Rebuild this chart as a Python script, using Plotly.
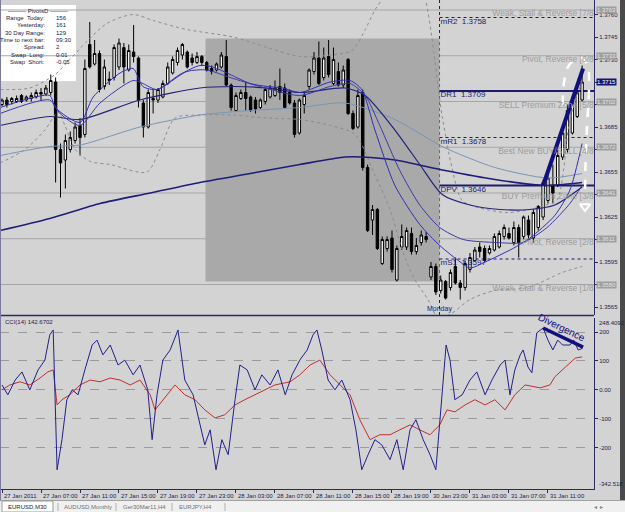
import plotly.graph_objects as go

W, H = 625, 512

# ---------------- data ----------------
bars = list(range(120))
opens = [1.3700,1.3703,1.3702,1.3702,1.3706,1.3703,1.3704,1.3705,1.3708,1.3707,
         1.3708,1.3715,1.3670,1.3663,1.3670,1.3676,1.3686,1.3680,1.3740,1.3727,
         1.3734,1.3712,1.3717,1.3718,1.3725,1.3738,1.3723,1.3735,1.3731,1.3701,
         1.3685,1.3704,1.3703,1.3705,1.3714,1.3721,1.3728,1.3733,1.3735,1.3731,
         1.3728,1.3732,1.3728,1.3724,1.3723,1.3725,1.3732,1.3713,1.3696,1.3704,
         1.3708,1.3705,1.3703,1.3698,1.3702,1.3705,1.3706,1.3712,1.3711,1.3708,
         1.3701,1.3681,1.3700,1.3712,1.3722,1.3731,1.3718,1.3732,1.3714,1.3722,
         1.3713,1.3730,1.3694,1.3685,1.3708,1.3658,1.3623,1.3630,1.3594,1.3604,
         1.3611,1.3583,1.3605,1.3605,1.3614,1.3602,1.3608,1.3612,1.3585,1.3592,
         1.3576,1.3582,1.3578,1.3592,1.3581,1.3578,1.3590,1.3596,1.3605,1.3604,
         1.3601,1.3603,1.3605,1.3612,1.3614,1.3608,1.3618,1.3612,1.3623,1.3611,
         1.3618,1.3625,1.3636,1.3646,1.3646,1.3665,1.3670,1.3681,1.3692,1.3703]
highs = [1.3704,1.3705,1.3705,1.3706,1.3707,1.3706,1.3708,1.3710,1.3711,1.3713,
         1.3720,1.3718,1.3674,1.3680,1.3682,1.3688,1.3691,1.3730,1.3755,1.3743,
         1.3736,1.3730,1.3722,1.3740,1.3744,1.3741,1.3740,1.3753,1.3732,1.3703,
         1.3710,1.3710,1.3711,1.3716,1.3728,1.3732,1.3738,1.3741,1.3736,1.3734,
         1.3735,1.3733,1.3729,1.3726,1.3728,1.3735,1.3743,1.3714,1.3708,1.3710,
         1.3715,1.3706,1.3705,1.3704,1.3711,1.3713,1.3716,1.3724,1.3714,1.3710,
         1.3703,1.3704,1.3708,1.3724,1.3735,1.3742,1.3738,1.3743,1.3738,1.3728,
         1.3726,1.3731,1.3696,1.3710,1.3710,1.3660,1.3633,1.3631,1.3612,1.3612,
         1.3616,1.3606,1.3620,1.3618,1.3618,1.3611,1.3616,1.3615,1.3595,1.3594,
         1.3586,1.3583,1.3590,1.3598,1.3583,1.3596,1.3601,1.3605,1.3608,1.3606,
         1.3606,1.3614,1.3616,1.3620,1.3618,1.3622,1.3620,1.3626,1.3626,1.3630,
         1.3633,1.3650,1.3656,1.3660,1.3670,1.3684,1.3700,1.3706,1.3711,1.3726]
lows = [1.3699,1.3698,1.3700,1.3701,1.3701,1.3702,1.3702,1.3704,1.3703,1.3706,
        1.3706,1.3648,1.3638,1.3644,1.3668,1.3674,1.3666,1.3678,1.3724,1.3726,
        1.3708,1.3710,1.3713,1.3716,1.3723,1.3714,1.3722,1.3728,1.3698,1.3678,
        1.3684,1.3694,1.3701,1.3704,1.3713,1.3720,1.3726,1.3730,1.3724,1.3726,
        1.3727,1.3726,1.3722,1.3720,1.3722,1.3724,1.3712,1.3696,1.3695,1.3703,
        1.3696,1.3695,1.3694,1.3697,1.3700,1.3704,1.3705,1.3703,1.3697,1.3700,
        1.3678,1.3680,1.3694,1.3710,1.3720,1.3713,1.3716,1.3718,1.3713,1.3712,
        1.3711,1.3693,1.3683,1.3684,1.3656,1.3615,1.3613,1.3603,1.3593,1.3602,
        1.3588,1.3582,1.3603,1.3603,1.3600,1.3600,1.3606,1.3608,1.3583,1.3573,
        1.3574,1.3570,1.3576,1.3580,1.3570,1.3576,1.3588,1.3595,1.3598,1.3595,
        1.3600,1.3602,1.3604,1.3610,1.3610,1.3606,1.3598,1.3610,1.3610,1.3608,
        1.3616,1.3623,1.3634,1.3634,1.3645,1.3663,1.3668,1.3680,1.3691,1.3702]
closes = [1.3703,1.3700,1.3704,1.3704,1.3702,1.3705,1.3706,1.3708,1.3707,1.3711,
          1.3716,1.3670,1.3661,1.3676,1.3678,1.3685,1.3678,1.3724,1.3725,1.3734,
          1.3710,1.3725,1.3716,1.3738,1.3741,1.3725,1.3736,1.3732,1.3703,1.3685,
          1.3708,1.3703,1.3710,1.3714,1.3725,1.3730,1.3736,1.3740,1.3725,1.3728,
          1.3732,1.3728,1.3723,1.3722,1.3727,1.3733,1.3713,1.3698,1.3706,1.3708,
          1.3704,1.3696,1.3697,1.3703,1.3710,1.3711,1.3711,1.3708,1.3698,1.3701,
          1.3680,1.3703,1.3706,1.3723,1.3731,1.3714,1.3731,1.3720,1.3730,1.3713,
          1.3723,1.3694,1.3684,1.3706,1.3658,1.3616,1.3630,1.3604,1.3610,1.3610,
          1.3590,1.3604,1.3612,1.3616,1.3602,1.3606,1.3613,1.3610,1.3592,1.3575,
          1.3583,1.3571,1.3588,1.3581,1.3578,1.3594,1.3598,1.3603,1.3602,1.3596,
          1.3604,1.3612,1.3614,1.3618,1.3611,1.3618,1.3608,1.3625,1.3613,1.3628,
          1.3632,1.3648,1.3651,1.3641,1.3666,1.3681,1.3696,1.3703,1.3708,1.3715]

tick_bars = [0, 8, 16, 24, 32, 40, 48, 56, 64, 72, 80, 88, 96, 104, 112]
tick_labels = ["27 Jan 2011", "27 Jan 07:00", "27 Jan 11:00", "27 Jan 15:00",
               "27 Jan 19:00", "27 Jan 23:00", "28 Jan 03:00", "28 Jan 07:00",
               "28 Jan 11:00", "28 Jan 15:00", "28 Jan 19:00", "30 Jan 23:00",
               "31 Jan 03:00", "31 Jan 07:00", "31 Jan 11:00"]
price_ticks = [1.3565, 1.3580, 1.3595, 1.3610, 1.3625, 1.3640, 1.3655,
               1.3670, 1.3685, 1.3700, 1.3715, 1.3730, 1.3745, 1.3760]

# moving averages (bar, price)
ma_long_k = [-0.4, 9.8, 20.1, 30.4, 40.6, 50.9, 61.1, 70.4, 73.8, 80.6, 90.9, 101.1, 111.4, 119]
ma_long_p = [1.3616, 1.3624, 1.3634, 1.3641, 1.3648, 1.3654, 1.3660, 1.3665, 1.3665, 1.3663,
             1.3656, 1.3650, 1.3646, 1.3648]
ma_steel_k = [-0.4, 9.8, 16, 28.3, 40.6, 50.9, 61.1, 70.4, 80.6, 90.3, 101.1, 112, 119]
ma_steel_p = [1.3666, 1.3672, 1.3673, 1.3685, 1.3693, 1.3696, 1.3698, 1.3701, 1.3690,
              1.3672, 1.3658, 1.3651, 1.3654]
ma_a_k = [-0.4, 9.8, 10.9, 16, 18.7, 24.2, 26.9, 28.9, 31.8, 36.5, 40.6, 43.3, 46.8, 50.9,
          54.4, 57.6, 61.1, 67.3, 71.4, 73.8, 76.5, 80.6, 85.7, 89.8, 94, 96, 99.1, 104.8,
          108.3, 113.4, 116.5, 119]
ma_a_p = [1.3698, 1.3706, 1.3698, 1.3688, 1.3705, 1.3721, 1.3724, 1.3712, 1.3710, 1.3720,
          1.3726, 1.3725, 1.3720, 1.3714, 1.3712, 1.3711, 1.3708, 1.3715, 1.3716, 1.3710,
          1.3683, 1.3646, 1.3620, 1.3606, 1.3595, 1.3591, 1.3595, 1.3604, 1.3611, 1.3626,
          1.3643, 1.3674]
ma_b_k = [-0.4, 9.8, 11.9, 16, 20.1, 26.9, 28.9, 31.8, 37.9, 42, 46.8, 52.9, 61.1, 67.3,
          71.4, 74.5, 77.5, 81.6, 85.7, 89.8, 94.6, 101.5, 106.9, 111.8, 116.5, 119]
ma_b_p = [1.3694, 1.3703, 1.3694, 1.3686, 1.3701, 1.3716, 1.3714, 1.3710, 1.3722, 1.3723,
          1.3718, 1.3712, 1.3706, 1.3712, 1.3714, 1.3706, 1.3686, 1.3656, 1.3633, 1.3618,
          1.3610, 1.3608, 1.3608, 1.3618, 1.3634, 1.3646]
ma_c_k = [-0.4, 9.8, 16, 28.3, 40.6, 47.4, 54.4, 61.1, 70.4, 74.5, 80.6, 85.7, 90.3, 96,
          102.2, 108.3, 113.4, 119]
ma_c_p = [1.3686, 1.3692, 1.3690, 1.3703, 1.3711, 1.3712, 1.3711, 1.3708, 1.3711, 1.3706,
          1.3683, 1.3660, 1.3640, 1.3633, 1.3630, 1.3630, 1.3633, 1.3645]

# bollinger bands
bb_up_k = [-0.4, 5.7, 10.9, 13.9, 17.4, 21.5, 26.9, 31, 37.9, 47.4, 54.4, 61.1, 67.3, 71.8,
           74.5, 76.5, 77.9, 81.6, 85.7, 90.3, 92.3, 94.4, 98, 103.6, 108.3, 111.4, 113.8,
           116.5, 119]
bb_up_p = [1.3710, 1.3711, 1.3720, 1.3730, 1.3742, 1.3754, 1.3760, 1.3756, 1.3750, 1.3745,
           1.3738, 1.3732, 1.3733, 1.3736, 1.3750, 1.3763, 1.3770, 1.3796, 1.3783, 1.3692,
           1.3658, 1.3636, 1.3631, 1.3628, 1.3630, 1.3633, 1.3636, 1.3690, 1.3716]
bb_lo_k = [-0.4, 4.7, 8.8, 11.5, 12.9, 15, 18.1, 22.2, 29.7, 32.4, 35.5, 40.6, 47.4, 54.4,
           61.1, 67.3, 72.4, 76.5, 79.6, 82.1, 84.7, 87.4, 89.4, 91.9, 96, 101.1, 107.9,
           114.9, 119]
bb_lo_p = [1.3661, 1.3670, 1.3683, 1.3695, 1.3686, 1.3670, 1.3662, 1.3660, 1.3655, 1.3670,
           1.3691, 1.3693, 1.3693, 1.3691, 1.3690, 1.3686, 1.3680, 1.3653, 1.3630, 1.3603,
           1.3583, 1.3570, 1.3558, 1.3560, 1.3570, 1.3576, 1.3578, 1.3588, 1.3592]

# CCI (bar, value)
cci_blue_k = [0, 1.2, 2.7, 4.1, 5.7, 7.4, 8.8, 9.8, 10.5, 11.3, 12.3, 13.3, 14.4, 15.6, 17,
              18.5, 19.5, 20.7, 22.2, 23.8, 25.2, 26.9, 28.3, 29.9, 30.8, 31.8, 33, 34.5,
              36.1, 37.5, 39.2, 40.6, 41.6, 42.7, 43.9, 45.1, 46.4, 47.8, 48.8, 50.3, 51.9,
              53.3, 55, 56.6, 58.1, 59.5, 61.1, 62.6, 63.8, 64.6, 65.6, 66.9, 68.3, 69.7,
              71.4, 72.6, 73.8, 75.1, 76.5, 77.9, 79.6, 81, 82.3, 83.7, 84.9, 86.4, 87.8, 89,
              90.1, 91.1, 91.9, 92.9, 94.4, 96, 97.4, 99.1, 100.5, 102.2, 103.2, 104.2,
              105.2, 106.3, 106.9, 107.9, 108.7, 109.7, 111, 112, 113, 114, 115, 116.5,
              117.3, 118.2, 119]
cci_blue_v = [17, -17, 34, 62, 0, 69, 103, 190, 207, -276, -172, -34, 0, -17, 69, 155, 172,
              121, 155, 86, 103, 52, 86, 0, -172, -17, 103, 138, 207, 34, -17, -121, -190,
              -138, -276, -172, -224, -34, 86, 69, 0, 52, 17, 69, -17, 52, 103, 138, 190,
              207, 138, 34, 0, 34, -34, -138, -276, -224, -172, -190, -241, -172, -276, -138,
              -103, -172, -224, -276, -34, 155, 103, -34, -17, 34, 62, -17, 34, 86, 103, -17,
              69, 121, 138, 79, 59, 197, 214, 172, 138, 172, 155, 155, 172, 138, 143]
cci_red_k = [0, 1.6, 3.7, 5.7, 7.8, 9.4, 10.5, 11.3, 12.3, 13.9, 16, 18.1, 20.1, 22.2, 24.2,
             26.3, 28.3, 30.4, 31.4, 33.4, 35.5, 37.5, 39.6, 41.6, 43.7, 45.7, 47.8, 49.8,
             51.9, 53.9, 56, 59.1, 61.1, 63.2, 65.2, 67.3, 69.3, 71.4, 73.4, 75.5, 77.5,
             79.6, 81.6, 83.7, 85.7, 87.8, 89.8, 91.3, 92.9, 95, 97, 99.1, 101.1, 103.2,
             105.2, 107.3, 110.4, 112.4, 113.4, 115.5, 117.6, 119]
cci_red_v = [0, 17, 28, 17, 41, 62, 69, -52, -34, -17, 17, 34, 28, 41, 34, 17, 34, -17, -69,
             -28, 17, -17, -34, -69, -97, -86, -52, -34, -17, 0, 17, 28, 52, 86, 103, 52, 17,
             -17, -103, -172, -155, -155, -138, -121, -138, -155, -121, -69, -76, -52, -34,
             -52, -34, -69, -17, 17, 7, 17, 45, 79, 110, 114]

# levels
murrey_levels = [1.3763, 1.37325, 1.3702, 1.36715, 1.3641, 1.36105, 1.3580]
# labels as visible up to the price axis, where the chart cuts them off
murrey_names = ["Weak, Stall & Reverse [7/8", "Pivot, Reverse [6/8",
                "SELL Premium Zone [5/8", "Best New BUY/SELL [4/8",
                "BUY Premium Zone [3/8", "Pivot, Reverse [2/8",
                "Weak, Stall & Reverse [1/8"]
murrey_tags = ["1.3763", "1.3733", "1.3702", "1.3672", "1.3641", "1.3611", "1.3580"]
pivot_names = ["mR2", "DR1", "mR1", "DPV", "mS1"]
pivot_levels = [1.3758, 1.3709, 1.3678, 1.3646, 1.3597]
pivot_solid = [False, True, False, True, False]
friday_box = dict(k0=41.75, k1=89.75, low=1.3582, high=1.3744)
monday_bar = 89.75
bid = 1.3715
trend_k = [111, 119.2]
trend_p = [1.3646, 1.3724]
uturn_k = [115.0, 115.3, 116.1, 117.5, 119.0, 120.2, 120.4, 120.0, 119.7, 119.6]
uturn_p = [1.3700, 1.3715, 1.3725, 1.3730, 1.3731, 1.3725, 1.3710, 1.3685, 1.3660, 1.3638]
div_k = [111, 119.2]
div_v = [214, 148]
cci_now = "142.6702"
cci_top, cci_bot = 248.4092, -342.518

info_labels = ["Range  Today:", "Yesterday:", "30 Day Range:", "Time to next bar:",
               "Spread:", "Swap  Long:", "Swap  Short:"]
info_values = ["156", "161", "129", "09:30", "2", "0.01", "-0.05"]

# ---------------- styling / layout helpers ----------------
BG = "#d3d3d3"
NAVY = "#1c1c6e"
FONT = "Liberation Sans"
FS = 6
XR = [-0.41, 121.44]
YR = [1.355967, 1.376967]
XD = [0, 594 / W]


def px(x):
    return x / W


def py(y):
    return 1 - y / H


# price tick labels hidden where an axis tag sits on top of them
covered = [bid] + murrey_levels
price_ticktext = ["" if min(abs(t - c) for c in covered) <= 0.00025 else f"{t:.4f}"
                  for t in price_ticks]

fig = go.Figure()

# candles
fig.add_trace(go.Candlestick(
    x=bars, open=opens, high=highs, low=lows, close=closes,
    increasing=dict(fillcolor="white", line=dict(color="black", width=1)),
    decreasing=dict(fillcolor="black", line=dict(color="black", width=1)),
    whiskerwidth=0, hoverinfo="skip", xaxis="x", yaxis="y"))

# bands
for kk, pp in [(bb_up_k, bb_up_p), (bb_lo_k, bb_lo_p)]:
    fig.add_trace(go.Scatter(x=kk, y=pp, mode="lines", hoverinfo="skip",
                             line=dict(color="#8c8c8c", width=1, dash="dot", shape="spline",
                                       smoothing=0.8), xaxis="x", yaxis="y"))
# MAs
for kk, pp, col, wd in [(ma_steel_k, ma_steel_p, "#7896b4", 1),
                        (ma_long_k, ma_long_p, "#1e1e78", 1.6),
                        (ma_c_k, ma_c_p, "#23237a", 1.2),
                        (ma_b_k, ma_b_p, "#3a3aa8", 1),
                        (ma_a_k, ma_a_p, "#3030b4", 1)]:
    fig.add_trace(go.Scatter(x=kk, y=pp, mode="lines", hoverinfo="skip",
                             line=dict(color=col, width=wd, shape="spline", smoothing=0.7),
                             xaxis="x", yaxis="y"))

# drawn objects
fig.add_trace(go.Scatter(x=uturn_k, y=uturn_p, mode="lines", hoverinfo="skip",
                         line=dict(color="white", width=2.5, dash="dash", shape="spline"),
                         xaxis="x", yaxis="y"))
fig.add_trace(go.Scatter(x=[uturn_k[-1]], y=[uturn_p[-1] - 0.0006], mode="markers",
                         hoverinfo="skip",
                         marker=dict(symbol="triangle-down-open", size=9, color="white",
                                     line=dict(color="white", width=2)),
                         xaxis="x", yaxis="y"))
fig.add_trace(go.Scatter(x=trend_k, y=trend_p, mode="lines", hoverinfo="skip",
                         line=dict(color="#10107e", width=4), xaxis="x", yaxis="y"))

# murrey labels, ending at the price axis
fig.add_trace(go.Scatter(x=[XR[1] - 0.05] * len(murrey_levels), y=murrey_levels, mode="text",
                         text=murrey_names, textposition="bottom left", cliponaxis=True,
                         textfont=dict(family=FONT, size=8.5, color="#9c9c9c"),
                         hoverinfo="skip", xaxis="x", yaxis="y"))
# pivot labels
fig.add_trace(go.Scatter(x=[monday_bar + 0.2] * len(pivot_levels), y=pivot_levels, mode="text",
                         text=[f"{n}  {v:.4f}" for n, v in zip(pivot_names, pivot_levels)],
                         textposition="bottom right", cliponaxis=True,
                         textfont=dict(family=FONT, size=8, color=NAVY),
                         hoverinfo="skip", xaxis="x", yaxis="y"))

# CCI
fig.add_trace(go.Scatter(x=cci_red_k, y=cci_red_v, mode="lines", hoverinfo="skip",
                         line=dict(color="#c03030", width=1), xaxis="x", yaxis="y2"))
fig.add_trace(go.Scatter(x=cci_blue_k, y=cci_blue_v, mode="lines", hoverinfo="skip",
                         line=dict(color="#20208a", width=1), xaxis="x", yaxis="y2"))
fig.add_trace(go.Scatter(x=div_k, y=div_v, mode="lines", hoverinfo="skip",
                         line=dict(color="#10107e", width=3.5), xaxis="x", yaxis="y2"))

shapes = []
# info panel
shapes.append(dict(type="rect", xref="paper", yref="paper", x0=px(0), x1=px(76),
                   y0=py(5), y1=py(81), fillcolor="white", line=dict(width=0), layer="below"))
# murrey lines
for lv in murrey_levels:
    shapes.append(dict(type="line", xref="paper", yref="y", x0=0, x1=XD[1], y0=lv, y1=lv,
                       line=dict(color="#a6a6a6", width=1), layer="below"))
# friday box
shapes.append(dict(type="rect", xref="x", yref="y", x0=friday_box["k0"], x1=friday_box["k1"],
                   y0=friday_box["low"], y1=friday_box["high"], fillcolor="#a9a9a9",
                   line=dict(width=0), layer="below"))
# bid line
shapes.append(dict(type="line", xref="paper", yref="y", x0=0, x1=XD[1], y0=bid, y1=bid,
                   line=dict(color="#d6d6d6", width=1), layer="below"))
# period separator
shapes.append(dict(type="line", xref="x", yref="paper", x0=monday_bar, x1=monday_bar,
                   y0=py(315), y1=1, line=dict(color=NAVY, width=1, dash="dot"), layer="below"))
# pivots
for lv, solid in zip(pivot_levels, pivot_solid):
    shapes.append(dict(type="line", xref="x", yref="y", x0=monday_bar, x1=XR[1], y0=lv, y1=lv,
                       line=dict(color=NAVY, width=2 if solid else 1,
                                 dash="solid" if solid else "dot"), layer="below"))
# panel separator, borders
shapes.append(dict(type="line", xref="paper", yref="paper", x0=0, x1=XD[1], y0=py(315.5),
                   y1=py(315.5), line=dict(color="#2a2a60", width=1.5)))
shapes.append(dict(type="line", xref="paper", yref="paper", x0=px(0.5), x1=px(0.5), y0=py(500),
                   y1=1, line=dict(color="#7a7aa0", width=1)))
shapes.append(dict(type="rect", xref="paper", yref="paper", x0=px(620), x1=1, y0=py(500), y1=1,
                   fillcolor="#4a4a4a", line=dict(width=0)))
# tab bar
shapes.append(dict(type="rect", xref="paper", yref="paper", x0=0, x1=1, y0=0, y1=py(500),
                   fillcolor="#f0f0f0", line=dict(width=0)))
shapes.append(dict(type="line", xref="paper", yref="paper", x0=0, x1=1, y0=py(500.5),
                   y1=py(500.5), line=dict(color="#a0a0a0", width=1)))
shapes.append(dict(type="rect", xref="paper", yref="paper", x0=px(2), x1=px(53), y0=py(512),
                   y1=py(501), fillcolor="white", line=dict(color="#9a9a9a", width=1)))
for sx in [58, 116, 172, 225]:
    shapes.append(dict(type="line", xref="paper", yref="paper", x0=px(sx), x1=px(sx),
                       y0=py(511), y1=py(503), line=dict(color="#b0b0b0", width=1)))

ann = []
# info panel text
ann.append(dict(xref="paper", yref="paper", x=px(38), y=py(11), text="——— PivotsD ———",
                showarrow=False, font=dict(family=FONT, size=FS, color="#202040"),
                xanchor="center", yanchor="middle"))
for i, (lab, val) in enumerate(zip(info_labels, info_values)):
    yy = py(18 + i * 7.3)
    ann.append(dict(xref="paper", yref="paper", x=px(47), y=yy, text=lab, showarrow=False,
                    font=dict(family=FONT, size=FS, color="#202040"), xanchor="right",
                    yanchor="middle"))
    ann.append(dict(xref="paper", yref="paper", x=px(54), y=yy, text=val, showarrow=False,
                    font=dict(family=FONT, size=FS, color="#202040"), xanchor="left",
                    yanchor="middle"))
# axis tags
for lv, tg in zip(murrey_levels, murrey_tags):
    ann.append(dict(xref="paper", yref="y", x=px(596), y=lv, text=tg, showarrow=False,
                    bgcolor="#9e9e9e", font=dict(family=FONT, size=FS, color="#e4e4e4"),
                    xanchor="left", yanchor="middle", borderpad=0))
ann.append(dict(xref="paper", yref="y", x=px(596), y=bid, text=f"{bid:.4f}", showarrow=False,
                bgcolor="#141470", font=dict(family=FONT, size=FS, color="white"),
                xanchor="left", yanchor="middle", borderpad=0))
# x labels
for kb, tl in zip(tick_bars, tick_labels):
    ann.append(dict(xref="x", yref="paper", x=kb, y=py(496), text=tl, showarrow=False,
                    font=dict(family=FONT, size=FS, color="#1c1c50"), xanchor="left",
                    yanchor="middle"))
# CCI texts
ann.append(dict(xref="paper", yref="paper", x=px(3), y=py(322), text=f"CCI(14) {cci_now}",
                showarrow=False, font=dict(family=FONT, size=FS, color="#1c1c50"),
                xanchor="left", yanchor="middle"))
ann.append(dict(xref="paper", yref="y2", x=px(597), y=cci_top, text=f"{cci_top:.4f}",
                showarrow=False, font=dict(family=FONT, size=FS, color="#1c1c50"),
                xanchor="left", yanchor="top"))
ann.append(dict(xref="paper", yref="y2", x=px(597), y=cci_bot, text=f"{cci_bot:.3f}",
                showarrow=False, font=dict(family=FONT, size=FS, color="#1c1c50"),
                xanchor="left", yanchor="bottom"))
ann.append(dict(xref="x", yref="y2", x=114.8, y=214, text="Divergence", textangle=26,
                showarrow=False, font=dict(family=FONT, size=10, color="#10107e")))
ann.append(dict(xref="x", yref="paper", x=monday_bar, y=py(315), text="Monday",
                showarrow=False, font=dict(family=FONT, size=7, color=NAVY),
                xanchor="center", yanchor="bottom"))
# tabs
for tx, tt, col in [(6, "EURUSD,M30", "#202020"), (62, "AUDUSD,Monthly", "#707070"),
                    (121, "Ger30Mar11,H4", "#707070"), (177, "EURJPY,H4", "#707070")]:
    ann.append(dict(xref="paper", yref="paper", x=px(tx), y=py(507), text=tt, showarrow=False,
                    font=dict(family=FONT, size=FS, color=col), xanchor="left",
                    yanchor="middle"))
ann.append(dict(xref="paper", yref="paper", x=px(598), y=py(507), text="◂  ▸", showarrow=False,
                font=dict(family=FONT, size=6, color="#808080"), xanchor="center",
                yanchor="middle"))

fig.update_layout(
    width=W, height=H, margin=dict(l=0, r=0, t=0, b=0),
    paper_bgcolor=BG, plot_bgcolor=BG, showlegend=False, hovermode=False,
    shapes=shapes, annotations=ann,
    xaxis=dict(domain=XD, range=XR, anchor="y2", showgrid=False, zeroline=False,
               showline=True, linecolor="#2a2a60", linewidth=1, ticks="outside", ticklen=3,
               tickcolor="#2a2a60", tickvals=tick_bars, showticklabels=False,
               rangeslider=dict(visible=False), fixedrange=True),
    yaxis=dict(domain=[1 - 315 / H, 1], range=YR, side="right", anchor="x", showgrid=False,
               zeroline=False, showline=True, linecolor="#2a2a60", linewidth=1,
               ticks="outside", ticklen=3, tickcolor="#2a2a60", tickvals=price_ticks,
               ticktext=price_ticktext,
               tickfont=dict(family=FONT, size=FS, color="#1c1c50")),
    yaxis2=dict(domain=[1 - 489 / H, 1 - 318 / H], range=[cci_bot, cci_top], side="right",
                anchor="x", showgrid=True, gridcolor="#9a9a9a", griddash="dash", gridwidth=1,
                zeroline=False, showline=True, linecolor="#2a2a60", linewidth=1,
                ticks="outside", ticklen=3, tickcolor="#2a2a60",
                tickvals=[-200, -100, 0, 100, 200],
                ticktext=["-200", "-100", "0.00", "100", "200"],
                tickfont=dict(family=FONT, size=FS, color="#1c1c50")),
)

fig.write_html("out.html")
